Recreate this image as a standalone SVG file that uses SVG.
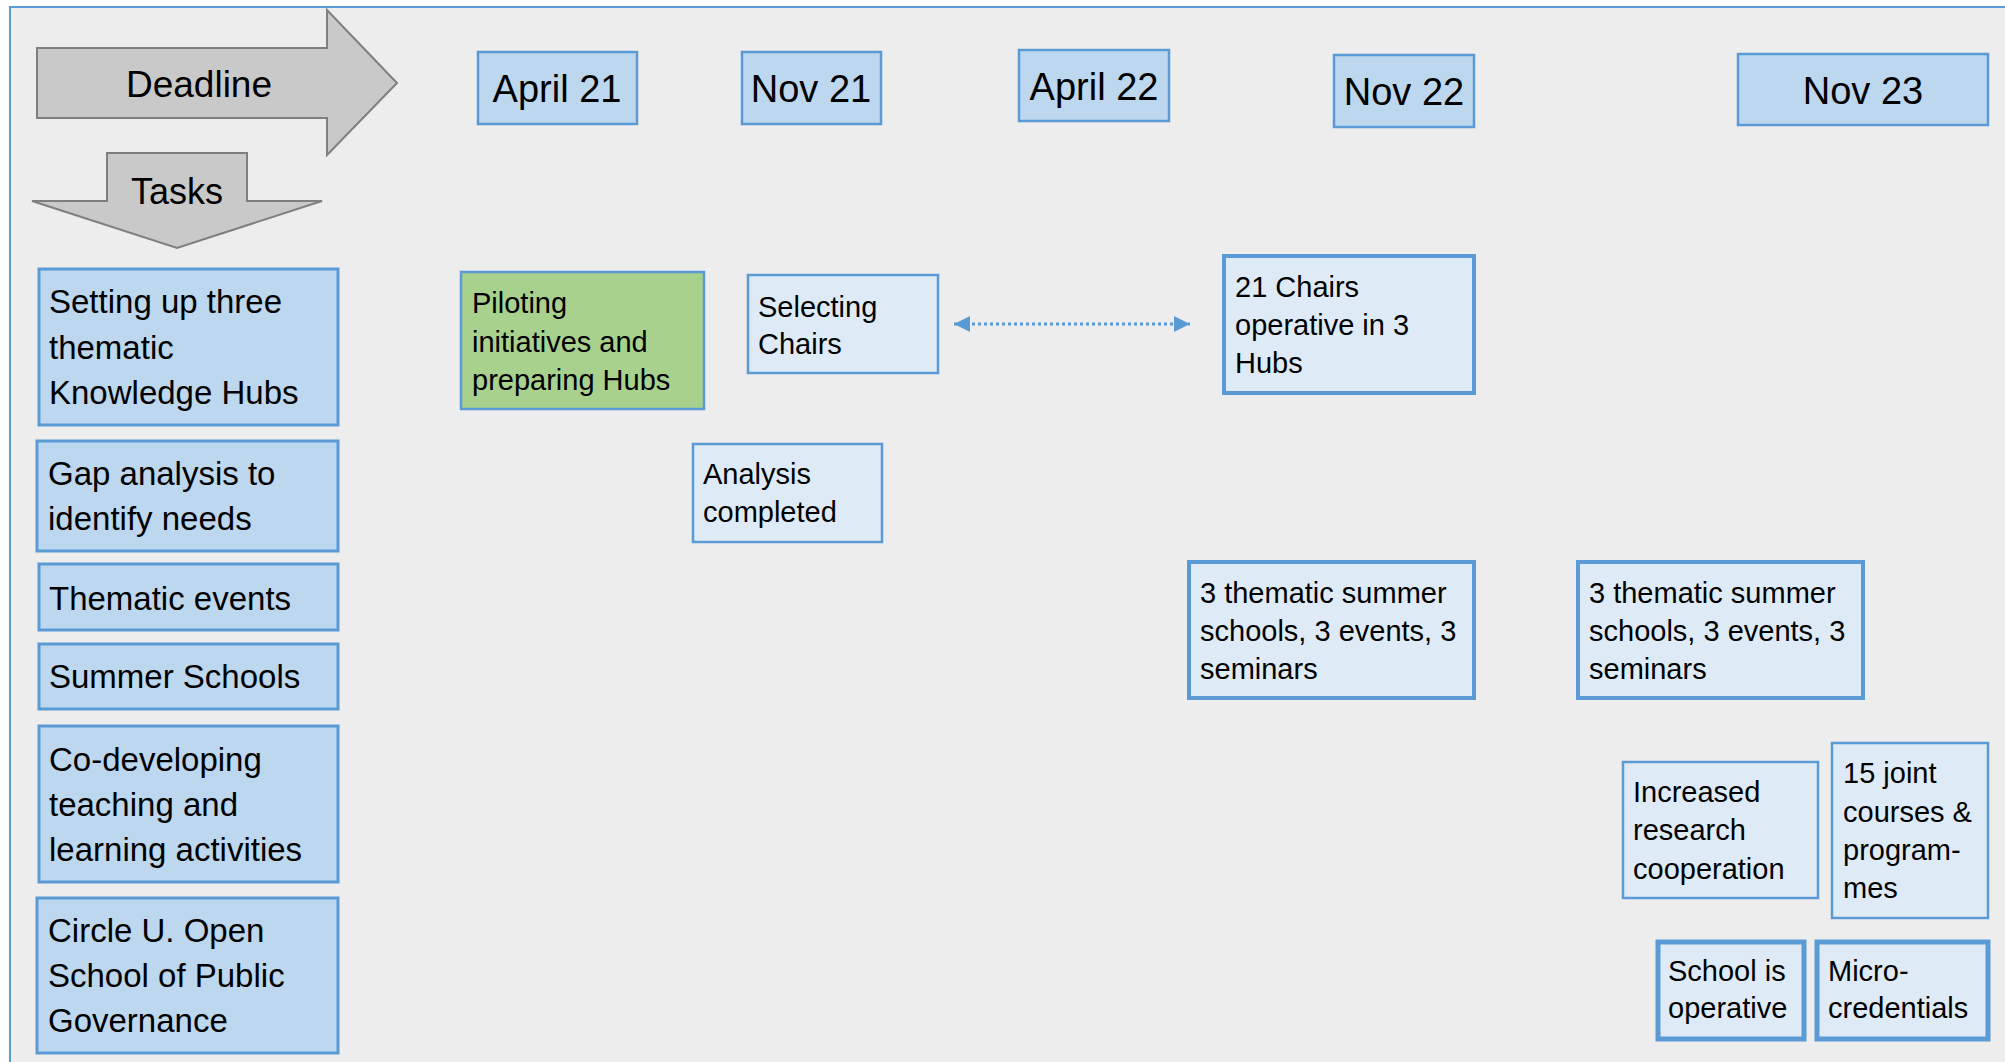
<svg xmlns="http://www.w3.org/2000/svg" width="2005" height="1062" viewBox="0 0 2005 1062">
<style>
text{font-family:"Liberation Sans",Arial,sans-serif;fill:#000}
.bg{fill:#ededed;stroke:#5b9bd5;stroke-width:2}
.arr{fill:#c9c9c9;stroke:#7f7f7f;stroke-width:2}
.date{fill:#bdd7ee;stroke:#5b9bd5;stroke-width:2.5}
.task{fill:#bdd7ee;stroke:#5b9bd5;stroke-width:3}
.ms{fill:#deebf7;stroke:#5b9bd5;stroke-width:2.5}
.ms4{fill:#deebf7;stroke:#5b9bd5;stroke-width:4}
.ms5{fill:#deebf7;stroke:#5b9bd5;stroke-width:5}
.green{fill:#a9d18e;stroke:#5b9bd5;stroke-width:2.5}
.hd{font-size:37px;text-anchor:middle}
.dt{font-size:38px;text-anchor:middle}
.tk{font-size:33px}
.mt{font-size:29px}
.conn{stroke:#5b9bd5;stroke-width:3;stroke-dasharray:3 3;fill:none}
</style>
<defs>
<marker id="tri" viewBox="0 0 16 16" refX="16" refY="8" markerWidth="16" markerHeight="16" markerUnits="userSpaceOnUse" orient="auto-start-reverse">
<path d="M0,0 L16,8 L0,16 z" fill="#5b9bd5"/>
</marker>
</defs>
<rect class="bg" x="10" y="7" width="2005" height="1070"/>

<g id="deadline">
<polygon class="arr" points="37,48 327,48 327,10 397,83 327,155 327,118 37,118"/>
<text class="hd" x="199" y="97">Deadline</text>
</g>
<g id="tasks">
<polygon class="arr" points="107,153 247,153 247,201 322,201 177,248 32,201 107,201"/>
<text class="hd" x="177" y="204" style="font-size:36px">Tasks</text>
</g>

<g id="d-apr21"><rect class="date" x="478" y="52" width="159" height="72"/><text class="dt" x="557" y="102">April 21</text></g>
<g id="d-nov21"><rect class="date" x="742" y="52" width="139" height="72"/><text class="dt" x="811" y="102">Nov 21</text></g>
<g id="d-apr22"><rect class="date" x="1019" y="50" width="150" height="71"/><text class="dt" x="1094" y="100">April 22</text></g>
<g id="d-nov22"><rect class="date" x="1334" y="55" width="140" height="72"/><text class="dt" x="1404" y="105">Nov 22</text></g>
<g id="d-nov23"><rect class="date" x="1738" y="54" width="250" height="71"/><text class="dt" x="1863" y="104">Nov 23</text></g>

<g id="t-hubs"><rect class="task" x="39" y="269" width="299" height="156"/>
<text class="tk" x="49" y="313">Setting up three</text><text class="tk" x="49" y="359">thematic</text><text class="tk" x="49" y="404">Knowledge Hubs</text></g>
<g id="t-gap"><rect class="task" x="37" y="441" width="301" height="110"/>
<text class="tk" x="48" y="485">Gap analysis to</text><text class="tk" x="48" y="530">identify needs</text></g>
<g id="t-events"><rect class="task" x="39" y="564" width="299" height="66"/>
<text class="tk" x="49" y="610">Thematic events</text></g>
<g id="t-summer"><rect class="task" x="39" y="644" width="299" height="65"/>
<text class="tk" x="49" y="688">Summer Schools</text></g>
<g id="t-codev"><rect class="task" x="39" y="726" width="299" height="156"/>
<text class="tk" x="49" y="771">Co-developing</text><text class="tk" x="49" y="816">teaching and</text><text class="tk" x="49" y="861">learning activities</text></g>
<g id="t-school"><rect class="task" x="37" y="898" width="301" height="155"/>
<text class="tk" x="48" y="942">Circle U. Open</text><text class="tk" x="48" y="987">School of Public</text><text class="tk" x="48" y="1032">Governance</text></g>

<g id="m-piloting"><rect class="green" x="461" y="272" width="243" height="137"/>
<text class="mt" x="472" y="313">Piloting</text><text class="mt" x="472" y="352">initiatives and</text><text class="mt" x="472" y="390">preparing Hubs</text></g>
<g id="m-selecting"><rect class="ms" x="748" y="275" width="190" height="98"/>
<text class="mt" x="758" y="317">Selecting</text><text class="mt" x="758" y="354">Chairs</text></g>
<g id="m-analysis"><rect class="ms" x="693" y="444" width="189" height="98"/>
<text class="mt" x="703" y="484">Analysis</text><text class="mt" x="703" y="522">completed</text></g>
<g id="m-chairs"><rect class="ms4" x="1224" y="256" width="250" height="137"/>
<text class="mt" x="1235" y="297">21 Chairs</text><text class="mt" x="1235" y="335">operative in 3</text><text class="mt" x="1235" y="373">Hubs</text></g>
<g id="m-summer22"><rect class="ms4" x="1189" y="562" width="285" height="136"/>
<text class="mt" x="1200" y="603">3 thematic summer</text><text class="mt" x="1200" y="641">schools, 3 events, 3</text><text class="mt" x="1200" y="679">seminars</text></g>
<g id="m-summer23"><rect class="ms4" x="1578" y="562" width="285" height="136"/>
<text class="mt" x="1589" y="603">3 thematic summer</text><text class="mt" x="1589" y="641">schools, 3 events, 3</text><text class="mt" x="1589" y="679">seminars</text></g>
<g id="m-research"><rect class="ms" x="1623" y="762" width="195" height="136"/>
<text class="mt" x="1633" y="802">Increased</text><text class="mt" x="1633" y="840">research</text><text class="mt" x="1633" y="879">cooperation</text></g>
<g id="m-courses"><rect class="ms" x="1832" y="743" width="156" height="175"/>
<text class="mt" x="1843" y="783">15 joint</text><text class="mt" x="1843" y="822">courses &amp;</text><text class="mt" x="1843" y="860">program-</text><text class="mt" x="1843" y="898">mes</text></g>
<g id="m-operative"><rect class="ms5" x="1658" y="942" width="146" height="97"/>
<text class="mt" x="1668" y="981">School is</text><text class="mt" x="1668" y="1018">operative</text></g>
<g id="m-micro"><rect class="ms5" x="1817" y="942" width="171" height="97"/>
<text class="mt" x="1828" y="981">Micro-</text><text class="mt" x="1828" y="1018">credentials</text></g>

<g id="connectors">
<line class="conn" x1="954" y1="324" x2="1190" y2="324" marker-start="url(#tri)" marker-end="url(#tri)"/>
</g>
</svg>
